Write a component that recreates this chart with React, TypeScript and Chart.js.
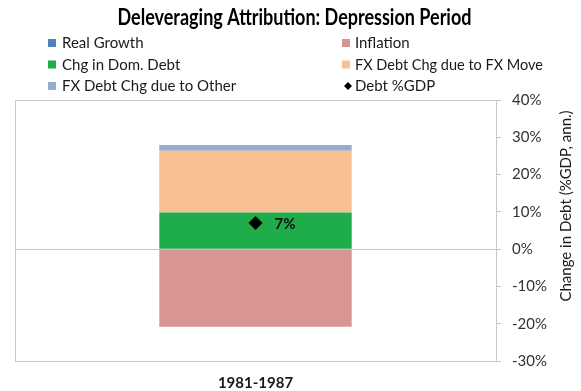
import React, { useEffect, useRef } from "react";
import { Chart, registerables } from "chart.js";

Chart.register(...registerables);

const TITLE = "Deleveraging Attribution: Depression Period";
const AXIS_TITLE = "Change in Debt (%GDP, ann.)";
const categories = ["1981-1987"];
const realGrowth = [0];
const inflation = [-20.8];
const domDebt = [9.8];
const fxMove = [16.6];
const fxOther = [1.5];
const debtGdp = [7];
const Y_MIN = -30;
const Y_MAX = 40;
const Y_STEP = 10;

const FONT = "Lato";

const overlay = {
  id: "overlay",
  beforeDatasetsDraw(chart: any) {
    const ctx = chart.ctx;
    const { left, top, right, bottom } = chart.chartArea;
    ctx.save();
    ctx.strokeStyle = "#c6c6c6";
    ctx.lineWidth = 1;
    ctx.beginPath();
    ctx.moveTo(right, Math.round(bottom) + 0.5);
    ctx.lineTo(Math.round(left) + 0.5, Math.round(bottom) + 0.5);
    ctx.lineTo(Math.round(left) + 0.5, Math.round(top) + 0.5);
    ctx.lineTo(right, Math.round(top) + 0.5);
    ctx.stroke();
    ctx.restore();
  },
  afterDraw(chart: any) {
    const ctx = chart.ctx;
    ctx.save();
    // title
    ctx.fillStyle = "#000";
    ctx.font = `bold 23px ${FONT}`;
    ctx.textAlign = "center";
    ctx.textBaseline = "middle";
    ctx.fillText(TITLE, 294.5, 18, 354);
    // legend
    ctx.font = `15px ${FONT}`;
    ctx.textAlign = "left";
    const rowsY = [43, 64.5, 86];
    const boxX = [51, 345];
    const textX = [62, 355];
    chart.data.datasets.forEach((ds: any, i: number) => {
      const col = i % 2;
      const row = Math.floor(i / 2);
      const y = rowsY[row];
      if (ds.type === "line") {
        const cx = boxX[col] + 3;
        ctx.fillStyle = "#000";
        ctx.beginPath();
        ctx.moveTo(cx, y - 4);
        ctx.lineTo(cx + 4, y);
        ctx.lineTo(cx, y + 4);
        ctx.lineTo(cx - 4, y);
        ctx.closePath();
        ctx.fill();
      } else {
        ctx.fillStyle = ds.backgroundColor;
        ctx.fillRect(boxX[col] - 3, y - 4, 8, 8);
      }
      ctx.fillStyle = "#1a1a1a";
      ctx.fillText(ds.label, textX[col], y + 0.5, col === 1 ? 188 : 200);
    });
    // axis title
    ctx.save();
    ctx.translate(566, 206);
    ctx.rotate(-Math.PI / 2);
    ctx.textAlign = "center";
    ctx.textBaseline = "middle";
    ctx.fillStyle = "#1a1a1a";
    ctx.font = `15px ${FONT}`;
    ctx.fillText(AXIS_TITLE, 0, 0);
    ctx.restore();
    // data label
    const idx = chart.data.datasets.findIndex((d: any) => d.type === "line");
    const meta = chart.getDatasetMeta(idx);
    meta.data.forEach((pt: any, j: number) => {
      ctx.font = `bold 15px ${FONT}`;
      ctx.fillStyle = "#111";
      ctx.textAlign = "left";
      ctx.textBaseline = "middle";
      ctx.fillText(`${debtGdp[j]}%`, pt.x + 19, pt.y + 1);
    });
    ctx.restore();
  },
};

export default function App() {
  const ref = useRef<HTMLCanvasElement | null>(null);
  useEffect(() => {
    if (!ref.current) return;
    const barBase = { barPercentage: 0.4, categoryPercentage: 1, stack: "s", borderWidth: 0, order: 1 };
    const chart = new Chart(ref.current, {
      type: "bar",
      data: {
        labels: categories,
        datasets: [
          { ...barBase, type: "bar", label: "Real Growth", data: realGrowth, backgroundColor: "#4f81bd" },
          { ...barBase, type: "bar", label: "Inflation", data: inflation, backgroundColor: "#d99594" },
          { ...barBase, type: "bar", label: "Chg in Dom. Debt", data: domDebt, backgroundColor: "#1fac4b" },
          { ...barBase, type: "bar", label: "FX Debt Chg due to FX Move", data: fxMove, backgroundColor: "#f7c093" },
          { ...barBase, type: "bar", label: "FX Debt Chg due to Other", data: fxOther, backgroundColor: "#95abd2" },
          {
            type: "line",
            label: "Debt %GDP",
            data: debtGdp,
            showLine: false,
            stack: "debt",
            order: -1,
            pointStyle: "rectRot",
            pointRadius: 7,
            backgroundColor: "#000",
            borderColor: "#000",
            borderWidth: 0,
          } as any,
        ],
      },
      options: {
        responsive: false,
        animation: false,
        events: [],
        layout: { padding: { top: 100, left: 15, right: 0, bottom: 0 } },
        plugins: { legend: { display: false }, tooltip: { enabled: false }, title: { display: false } },
        scales: {
          x: {
            stacked: true,
            grid: { display: false },
            border: { display: false },
            ticks: { font: { family: FONT, size: 15, weight: "bold" }, color: "#1a1a1a", padding: 5 },
            afterFit: (s: any) => { s.height = 30; },
          },
          y: {
            stacked: true,
            position: "right",
            min: Y_MIN,
            max: Y_MAX,
            ticks: {
              stepSize: Y_STEP,
              padding: 11,
              font: { family: FONT, size: 15 },
              color: "#333",
              callback: (v: any) => `${v}%`,
            },
            grid: {
              drawTicks: true,
              tickLength: 5,
              color: (c: any) => (c.tick && c.tick.value === 0 ? "#c6c6c6" : "rgba(0,0,0,0)"),
              tickColor: "#c6c6c6",
            },
            border: { display: true, color: "#c6c6c6" },
            afterFit: (s: any) => { s.width = 85; },
          },
        },
      },
      plugins: [overlay],
    } as any);
    return () => chart.destroy();
  }, []);
  return (
    <div style={{ position: "fixed", left: 0, top: 0, width: 581, height: 391, background: "#fff" }}>
      <canvas ref={ref} width={581} height={391} />
    </div>
  );
}
